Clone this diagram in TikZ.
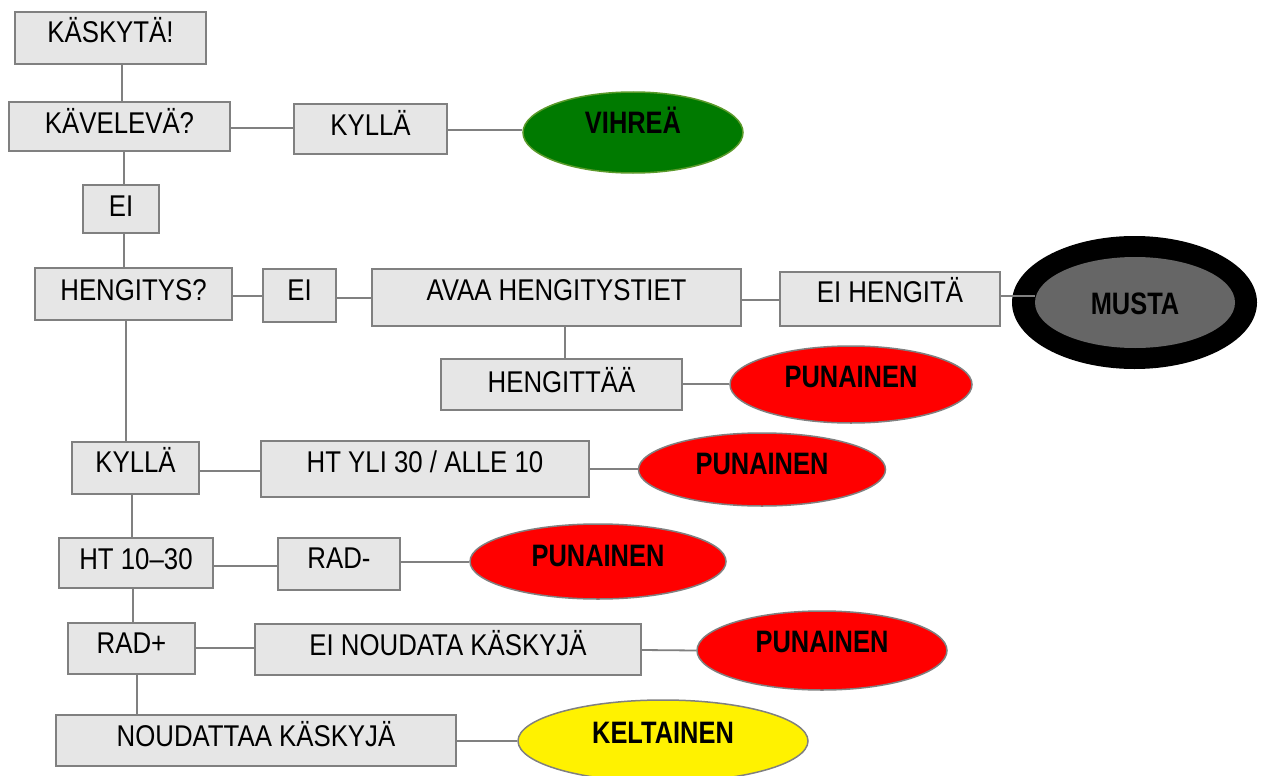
\documentclass[tikz,border=0pt]{standalone}
\usepackage{fontspec}
\setmainfont{Liberation Sans}
\newfontfamily\nbfont{Liberation Sans}[FakeStretch=0.82]
\newfontfamily\nrfont{Liberation Sans}[FakeStretch=0.86]
\usetikzlibrary{shapes.geometric}
\definecolor{boxfill}{HTML}{E6E6E6}
\definecolor{edge}{HTML}{808080}
\definecolor{vgreen}{HTML}{007A00}
\definecolor{vgreenedge}{HTML}{5A9A2A}
\definecolor{mgray}{HTML}{666666}
\tikzset{
  box/.style={rectangle, draw=edge, fill=boxfill, line width=1.8pt, inner sep=0pt},
  oval/.style={ellipse, draw=edge, line width=1.5pt, inner sep=0pt},
  lbl/.style={anchor=base, inner sep=0pt, font=\nrfont\fontsize{30}{34}\selectfont},
  blbl/.style={anchor=base, inner sep=0pt, font=\nbfont\bfseries\fontsize{31}{35}\selectfont},
  conn/.style={draw=edge, line width=1.8pt},
}
\begin{document}
\begin{tikzpicture}[x=1pt,y=-1pt]
\useasboundingbox[fill=white] (0,0) rectangle (1264,776);

% ---------- boxes ----------
\node[box, minimum width=191pt, minimum height=52pt] (k1) at (110.5,38) {};
\node[box, minimum width=221pt, minimum height=49pt] (kav) at (119.5,126.5) {};
\node[box, minimum width=153pt, minimum height=50pt] (kyl1) at (370.5,129) {};
\node[box, minimum width=76pt, minimum height=48pt] (ei1) at (121,209) {};
\node[box, minimum width=197pt, minimum height=52pt] (hen) at (133.5,294) {};
\node[box, minimum width=73pt, minimum height=53pt] (ei2) at (299.5,295.5) {};
\node[box, minimum width=369pt, minimum height=57pt] (avaa) at (556.5,297.5) {};
\node[box, minimum width=220pt, minimum height=54pt] (eih) at (890,299) {};
\node[box, minimum width=241pt, minimum height=51pt] (hgt) at (561.5,384.5) {};
\node[box, minimum width=127pt, minimum height=52pt] (kyl2) at (135.5,468) {};
\node[box, minimum width=328pt, minimum height=56pt] (ht) at (425,469) {};
\node[box, minimum width=154pt, minimum height=50pt] (ht1030) at (136,563) {};
\node[box, minimum width=122pt, minimum height=52pt] (radm) at (339,564) {};
\node[box, minimum width=127pt, minimum height=51pt] (radp) at (131.5,648.5) {};
\node[box, minimum width=386pt, minimum height=51pt] (einou) at (448,649.5) {};
\node[box, minimum width=400pt, minimum height=51pt] (nou) at (256,740.5) {};

% ---------- ellipses ----------
\node[oval, draw=vgreenedge, fill=vgreen, minimum width=220pt, minimum height=81pt] (vih) at (633,132.5) {};
\node[oval, fill=red, minimum width=242pt, minimum height=77pt] (pun1) at (851,384.5) {};
\node[oval, fill=red, minimum width=247pt, minimum height=73pt] (pun2) at (762,469.5) {};
\node[oval, fill=red, minimum width=256pt, minimum height=75pt] (pun3) at (598,561.5) {};
\node[oval, fill=red, minimum width=250pt, minimum height=79pt] (pun4) at (822,650.5) {};
\node[oval, fill=yellow, minimum width=290pt, minimum height=82pt] (kel) at (663,741) {};
\node[ellipse, fill=black, inner sep=0pt, minimum width=245pt, minimum height=133pt] (musout) at (1134.5,302.5) {};
\node[ellipse, fill=mgray, inner sep=0pt, minimum width=200pt, minimum height=91pt] (musin) at (1135,302.5) {};

% ---------- connector guide coordinates ----------
\coordinate (vx122) at (122,0);
\coordinate (vx124) at (124,0);
\coordinate (vx126) at (126,0);
\coordinate (vx132) at (132,0);
\coordinate (vx133) at (133,0);
\coordinate (vx137) at (137,0);
\coordinate (vx565) at (565,0);
\coordinate (hy128) at (0,128);
\coordinate (hy130) at (0,130);
\coordinate (hy296) at (0,296);
\coordinate (hy298) at (0,298);
\coordinate (hy300) at (0,300);
\coordinate (hy384) at (0,384);
\coordinate (hy471) at (0,471);
\coordinate (hy469) at (0,469);
\coordinate (hy566) at (0,566);
\coordinate (hy562) at (0,562);
\coordinate (hy648) at (0,648);
\coordinate (hy650) at (0,650);
\coordinate (hy741) at (0,741);

% ---------- vertical connectors ----------
\draw[conn] (k1.south -| vx122) -- (kav.north -| vx122);
\draw[conn] (kav.south -| vx124) -- (ei1.north -| vx124);
\draw[conn] (ei1.south -| vx124) -- (hen.north -| vx124);
\draw[conn] (hen.south -| vx126) -- (kyl2.north -| vx126);
\draw[conn] (kyl2.south -| vx132) -- (ht1030.north -| vx132);
\draw[conn] (ht1030.south -| vx133) -- (radp.north -| vx133);
\draw[conn] (radp.south -| vx137) -- (nou.north -| vx137);
\draw[conn] (avaa.south -| vx565) -- (hgt.north -| vx565);

% ---------- horizontal connectors ----------
\draw[conn] (kav.east |- hy128) -- (kyl1.west |- hy128);
\draw[conn] (kyl1.east |- hy130) -- (vih.west |- hy130);
\draw[conn] (hen.east |- hy296) -- (ei2.west |- hy296);
\draw[conn] (ei2.east |- hy298) -- (avaa.west |- hy298);
\draw[conn] (avaa.east |- hy300) -- (eih.west |- hy300);
\draw[conn] (eih.east |- hy296) -- (musin.west |- hy296);
\draw[conn] (hgt.east |- hy384) -- (pun1.west |- hy384);
\draw[conn] (kyl2.east |- hy471) -- (ht.west |- hy471);
\draw[conn] (ht.east |- hy469) -- (pun2.west |- hy469);
\draw[conn] (ht1030.east |- hy566) -- (radm.west |- hy566);
\draw[conn] (radm.east |- hy562) -- (pun3.west |- hy562);
\draw[conn] (radp.east |- hy648) -- (einou.west |- hy648);
\draw[conn] (einou.east |- hy650) -- (pun4.west);
\draw[conn] (nou.east |- hy741) -- (kel.west |- hy741);

% ---------- labels ----------
\node[lbl] (k1t) at (110.5,42.5) {KÄSKYTÄ!};
\node[lbl] (kavt) at (119.5,133) {KÄVELEVÄ?};
\node[lbl] (kyl1t) at (370.5,135) {KYLLÄ};
\node[lbl] (ei1t) at (121,216) {EI};
\node[lbl] (hent) at (133.5,300) {HENGITYS?};
\node[lbl] (ei2t) at (299.5,300) {EI};
\node[lbl] (avaat) at (556.5,300) {AVAA HENGITYSTIET};
\node[lbl] (eiht) at (890,302) {EI HENGITÄ};
\node[lbl] (hgtt) at (561.5,392) {HENGITTÄÄ};
\node[lbl] (kyl2t) at (135.5,472) {KYLLÄ};
\node[lbl] (htt) at (425,472) {HT YLI 30 / ALLE 10};
\node[lbl] (ht1030t) at (136,569) {HT 10–30};
\node[lbl] (radmt) at (339,568) {RAD-};
\node[lbl] (radpt) at (131.5,653) {RAD+};
\node[lbl] (einout) at (448,655) {EI NOUDATA KÄSKYJÄ};
\node[lbl] (nout) at (256,746) {NOUDATTAA KÄSKYJÄ};

\node[blbl] (viht) at (633,133) {VIHREÄ};
\node[blbl] (pun1t) at (851,387) {PUNAINEN};
\node[blbl] (pun2t) at (762,474) {PUNAINEN};
\node[blbl] (pun3t) at (598,566) {PUNAINEN};
\node[blbl] (pun4t) at (822,652) {PUNAINEN};
\node[blbl] (kelt) at (663,743) {KELTAINEN};
\node[blbl] (must) at (1135,314) {MUSTA};
\end{tikzpicture}
\end{document}
